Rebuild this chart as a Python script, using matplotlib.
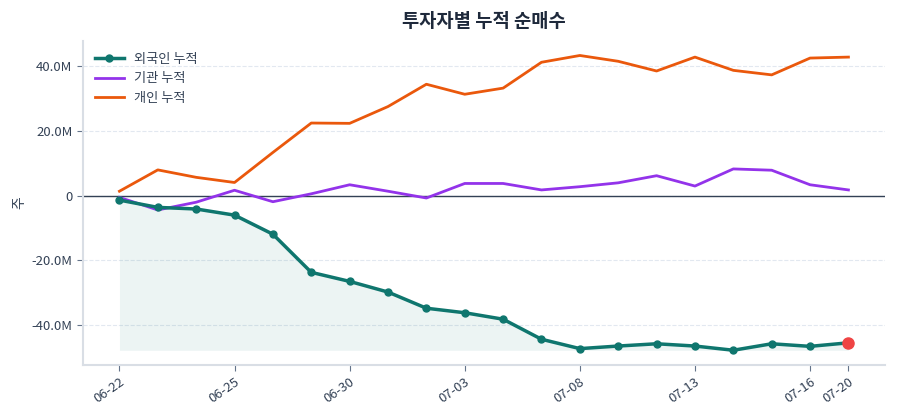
import matplotlib
matplotlib.use("Agg")
import matplotlib.pyplot as plt
from matplotlib.ticker import FuncFormatter, FixedLocator

plt.rcParams['font.family'] = ['Noto Sans CJK KR', 'DejaVu Sans']

DATES = ["06-22", "06-23", "06-24", "06-25", "06-26", "06-29", "06-30",
         "07-01", "07-02", "07-03", "07-06", "07-07", "07-08", "07-09",
         "07-10", "07-13", "07-14", "07-15", "07-16", "07-20"]

# cumulative net buying, millions of shares
FOREIGN = [-1.35, -3.6, -4.1, -6.0, -11.9, -23.7, -26.5, -29.8, -34.8, -36.2,
           -38.2, -44.4, -47.3, -46.5, -45.8, -46.5, -47.8, -45.8, -46.6, -45.5]
INSTITUTION = [-0.5, -4.4, -2.0, 1.7, -1.85, 0.6, 3.4, 1.4, -0.7, 3.8,
               3.8, 1.8, 2.8, 4.0, 6.2, 3.0, 8.3, 7.9, 3.4, 1.8]
INDIVIDUAL = [1.4, 8.0, 5.7, 4.1, 13.4, 22.5, 22.4, 27.6, 34.5, 31.4,
              33.3, 41.3, 43.4, 41.6, 38.6, 42.9, 38.8, 37.4, 42.6, 42.9]

TICK_IDX = [0, 3, 6, 9, 12, 15, 18, 19]

TEAL = "#0f766e"
PURPLE = "#9333ea"
ORANGE = "#ea580c"
TEXT = "#334155"


def fmt_y(v, _):
    if abs(v) < 1e-9:
        return "0"
    return "%.1fM" % (v / 1e6)


def main():
    x = list(range(len(DATES)))
    f = [v * 1e6 for v in FOREIGN]
    inst = [v * 1e6 for v in INSTITUTION]
    ind = [v * 1e6 for v in INDIVIDUAL]

    fig = plt.figure(figsize=(9, 4.2), dpi=100)
    ax = fig.add_axes([0.0922, 0.131, 0.891, 0.772])

    ax.fill_between(x, f, min(f), color=TEAL, alpha=0.08, linewidth=0)
    ax.plot(x, f, color=TEAL, lw=2.5, marker='o', ms=5, label="외국인 누적", zorder=4)
    ax.plot(x, inst, color=PURPLE, lw=2, label="기관 누적", zorder=3)
    ax.plot(x, ind, color=ORANGE, lw=2, label="개인 누적", zorder=3)
    ax.plot([x[-1]], [f[-1]], 'o', color="#ef4444", ms=8, zorder=5)
    ax.axhline(0, color="#334155", lw=1, zorder=2)

    ax.yaxis.set_major_locator(FixedLocator([-40e6, -20e6, 0, 20e6, 40e6]))
    ax.yaxis.set_major_formatter(FuncFormatter(fmt_y))
    ax.set_xticks(TICK_IDX)
    ax.set_xticklabels([DATES[i] for i in TICK_IDX], rotation=35, ha='right',
                       rotation_mode='anchor')
    ax.grid(axis='y', color="#e2e8f0", linestyle='--', lw=0.8)
    ax.set_axisbelow(True)

    for s in ("top", "right"):
        ax.spines[s].set_visible(False)
    for s in ("left", "bottom"):
        ax.spines[s].set_color("#d9dee5")
        ax.spines[s].set_linewidth(1.5)
    ax.tick_params(colors="#64748b", labelcolor=TEXT, labelsize=9.5, length=4)

    ax.set_ylabel("주", color=TEXT, fontsize=10)
    ax.set_title("투자자별 누적 순매수", fontsize=13.5, fontweight='bold',
                 color="#1e293b", pad=10)
    ax.legend(loc='upper left', frameon=False, fontsize=9.5, labelcolor=TEXT,
              handlelength=2.2)

    fig.savefig("out.png", dpi=100)


if __name__ == '__main__':
    main()
